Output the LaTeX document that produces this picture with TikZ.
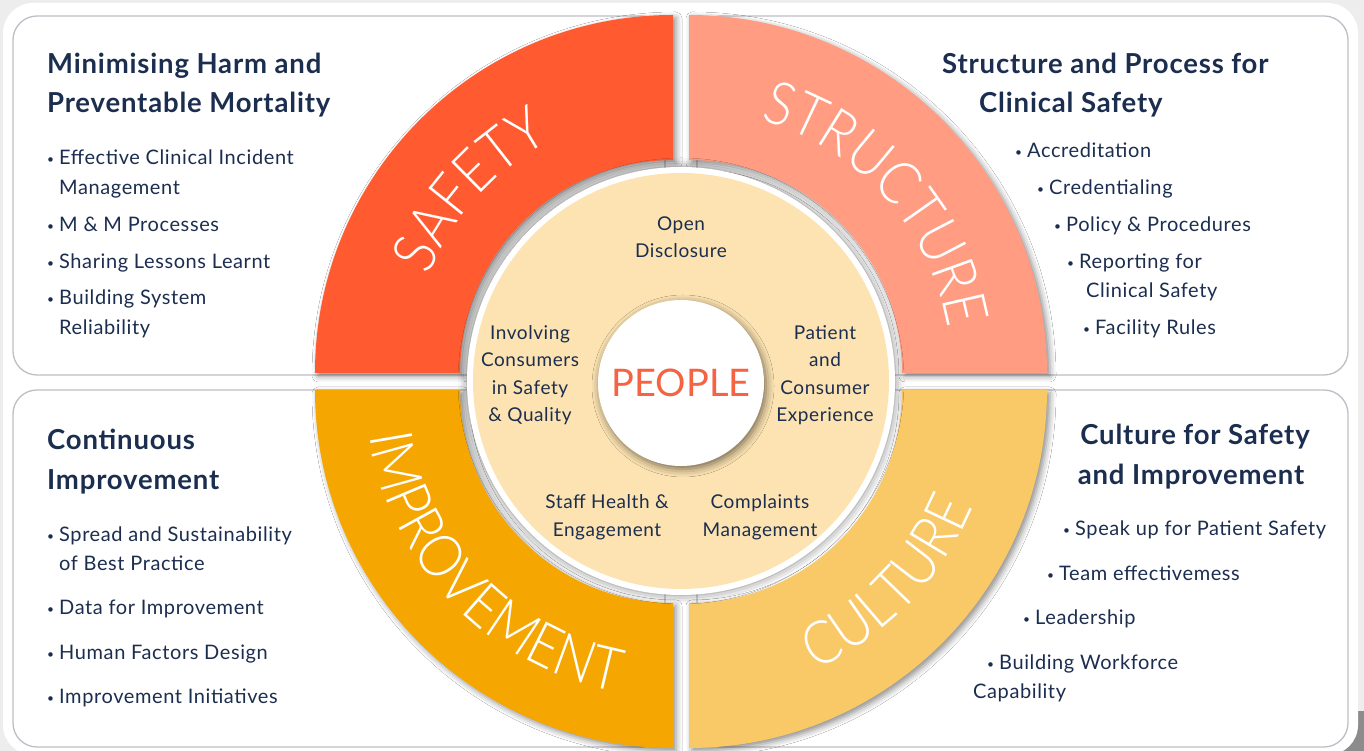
\documentclass[tikz,border=0pt]{standalone}
\usepackage{fontspec}
\setmainfont{Lato}
\newfontfamily\txt{Lato}[LetterSpace=3]
\newfontfamily\arcfont{Lato Light}[FakeStretch=0.88]
\usetikzlibrary{decorations.text,shadows.blur}

\definecolor{navy}{HTML}{1C2E4F}
\definecolor{safety}{HTML}{FF5A30}
\definecolor{structure}{HTML}{FF9C81}
\definecolor{improvement}{HTML}{F5A600}
\definecolor{culture}{HTML}{F9C867}
\definecolor{cream}{HTML}{FCE3B1}
\definecolor{peoplered}{HTML}{F46342}
\definecolor{frame}{HTML}{BDBEC6}

\newcommand\bl{\makebox[12pt][l]{\raisebox{1.5pt}{\fontsize{12}{12}\selectfont\textbullet}}}

\tikzset{
  panel/.style={draw=frame,line width=1.3pt,fill=white,rounded corners=24pt},
  quad/.style={blur shadow={shadow xshift=3pt,shadow yshift=-3pt,shadow blur radius=6pt,shadow opacity=45}},
  head/.style={anchor=base west,inner sep=0pt,text=navy,font=\txt\fontsize{27.5}{32}\selectfont\bfseries},
  item/.style={anchor=base west,inner sep=0pt,text=navy,font=\txt\fontsize{20}{24}\selectfont},
  hub/.style={align=center,inner sep=0pt,text=navy,font=\txt\fontsize{19}{27.5}\selectfont},
  arclabel/.style={decorate,decoration={text along path,text align=center,text color=white,
    text={|\arcfont\fontsize{60}{60}\selectfont|#1}}},
}

\begin{document}
\begin{tikzpicture}[x=1pt,y=1pt]
  \useasboundingbox (0,0) rectangle (1364,751);
  % backdrop and white card
  \fill[black!7] (0,0) rectangle (1364,751);
  \fill[black!45] (1320,0) rectangle (1364,40);
  \fill[white,rounded corners=30pt] (3,-4) rectangle (1358,748);

  % four text panels
  \draw[panel] (13,376) rectangle (665,735);
  \draw[panel] (697,376) rectangle (1348,735);
  \draw[panel] (13,4) rectangle (665,361);
  \draw[panel] (697,4) rectangle (1348,361);

  % quarter rings, each around its own corner
  \foreach \a/\cx/\cy/\col in {90/673/378/safety,0/689/378/structure,180/673/361/improvement,270/689/361/culture}
    \fill[\col,quad] ([shift={(\a:358)}]\cx,\cy) arc[start angle=\a,delta angle=90,radius=358]
      -- ([shift={(\a+90:213)}]\cx,\cy) arc[start angle=\a+90,delta angle=-90,radius=213] -- cycle;

  \path[arclabel=SAFETY] ([shift={(178:263)}]673,378) arc[start angle=178,end angle=98,radius=263];
  \path[arclabel=STRUCTURE] ([shift={(84:263)}]689,378) arc[start angle=84,end angle=0,radius=263];
  \path[arclabel=IMPROVEMENT] ([shift={(184:307)}]673,361) arc[start angle=184,end angle=264,radius=307];
  \path[arclabel=CULTURE] ([shift={(276:307)}]689,361) arc[start angle=276,end angle=356,radius=307];

  % people hub
  \fill[white,blur shadow={shadow xshift=0pt,shadow yshift=0pt,shadow blur radius=9pt,shadow opacity=50}] (681,370) circle[radius=214];
  \fill[cream] (681,370) circle[radius=208];
  \node[circle,fill=white,minimum size=166pt,inner sep=0pt,text=peoplered,font=\fontsize{38}{38}\selectfont,
    blur shadow={shadow xshift=2pt,shadow yshift=-3pt,shadow blur radius=8pt,shadow opacity=55}] (people) at (681,368) {PEOPLE};

  \node[hub] (open) at (681,514) {Open\\Disclosure};
  \node[hub] (involve) at (530,376) {Involving\\Consumers\\in Safety\\\& Quality};
  \node[hub] (patient) at (825,376) {Patient\\and\\Consumer\\Experience};
  \node[hub] (staff) at (607,234) {Staff Health \&\\Engagement};
  \node[hub] (complaint) at (760,234) {Complaints\\Management};

  % top left
  \node[head] (tlh1) at (47,677) {Minimising Harm and};
  \node[head] (tlh2) at (47,638) {Preventable Mortality};
  \foreach \x/\y/\t [count=\i] in {47/586/{\bl Effective Clinical Incident},59/556/Management,
      47/519/{\bl M \& M Processes},47/482/{\bl Sharing Lessons Learnt},47/446/{\bl Building System},59/416/Reliability}
    \node[item] (tl\i) at (\x,\y) {\t};

  % top right
  \node[head] (trh1) at (942,677) {Structure and Process for};
  \node[head] (trh2) at (979,638) {Clinical Safety};
  \foreach \x/\y/\t [count=\i] in {1015/593/{\bl Accreditation},1037/556/{\bl Credentialing},
      1054/519/{\bl Policy \& Procedures},1067/482/{\bl Reporting for},1086/453/{Clinical Safety},1083/416/{\bl Facility Rules}}
    \node[item] (tr\i) at (\x,\y) {\t};

  % bottom left
  \node[head] (blh1) at (47,301) {Continuous};
  \node[head] (blh2) at (47,261) {Improvement};
  \foreach \x/\y/\t [count=\i] in {47/209/{\bl Spread and Sustainability},59/180/{of Best Practice},
      47/136/{\bl Data for Improvement},47/91/{\bl Human Factors Design},47/47/{\bl Improvement Initiatives}}
    \node[item] (bl\i) at (\x,\y) {\t};

  % bottom right
  \node[head,anchor=base] (brh1) at (1195,306) {Culture for Safety};
  \node[head,anchor=base] (brh2) at (1191,266) {and Improvement};
  \foreach \x/\y/\t [count=\i] in {1063/215/{\bl Speak up for Patient Safety},1047/170/{\bl Team effectivemess},
      1023/126/{\bl Leadership},987/81/{\bl Building Workforce},973/52/{Capability}}
    \node[item] (br\i) at (\x,\y) {\t};
\end{tikzpicture}
\end{document}
